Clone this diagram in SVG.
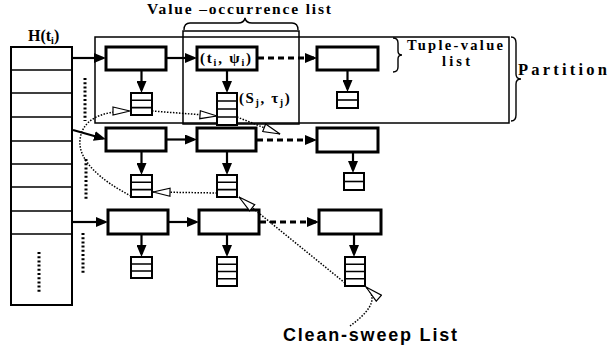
<svg xmlns="http://www.w3.org/2000/svg" width="609" height="348" viewBox="0 0 609 348">
<style>
.bx{fill:#fff;stroke:#000;stroke-width:3}
.q{fill:#fff;stroke:#000;stroke-width:2}
.ql{stroke:#000;stroke-width:1.6}
.sol{stroke:#000;stroke-width:2.2;fill:none}
.dsh{stroke:#000;stroke-width:3;fill:none;stroke-dasharray:6 4}
.dot{stroke:#000;stroke-width:1.5;fill:none;stroke-dasharray:1.5 1.5}
.big{stroke:#000;stroke-width:3;fill:none;stroke-dasharray:2 2.2}
.frame{fill:none;stroke:#000;stroke-width:1.5}
.brace{fill:none;stroke:#000;stroke-width:1.4}
.lab{font-family:"Liberation Serif","Times New Roman",serif;font-weight:bold;fill:#000}
.sans{font-family:"Liberation Sans",Arial,sans-serif;font-weight:bold;fill:#000}
</style>
<defs>
<marker id="ah" viewBox="0 0 12 10" refX="9" refY="5" markerWidth="12" markerHeight="10" markerUnits="userSpaceOnUse" orient="auto">
<path d="M0,0 L12,5 L0,10 z" fill="#000"/>
</marker>
<marker id="hh" viewBox="0 0 19 10" refX="18" refY="5" markerWidth="19" markerHeight="10" markerUnits="userSpaceOnUse" orient="auto">
<path d="M1,1 L18,5 L1,9 z" fill="#fff" stroke="#000" stroke-width="1.2"/>
</marker>
</defs>
<rect width="609" height="348" fill="#fff"/>

<g id="frames">
<rect class="frame" x="95" y="37" width="414" height="86"/>
<rect class="frame" x="183" y="31" width="116" height="93"/>
<path class="brace" d="M184 30 Q184 23 190 23 L238 23 Q244 23 245 18 Q246 23 252 23 L292 23 Q298 23 298 30"/>
<path class="brace" d="M393 38 Q398 38 398 43 L398 51 Q398 55 402 55 Q398 55 398 59 L398 67 Q398 72 393 72"/>
<path class="brace" d="M511 37 Q516 37 516 43 L516 74 Q516 79 521 79 Q516 79 516 84 L516 115 Q516 121 511 121"/>
</g>

<g id="labels">
<text class="lab" x="147" y="14" font-size="15.5" textLength="184" lengthAdjust="spacing">Value –occurrence list</text>
<text class="lab" x="28" y="41" font-size="16">H(t<tspan font-size="10" dy="3">i</tspan><tspan dy="-3">)</tspan></text>
<text class="lab" x="407" y="50" font-size="14.5" textLength="96" lengthAdjust="spacing">Tuple-value</text>
<text class="lab" x="442" y="66" font-size="14.5" textLength="28" lengthAdjust="spacing">list</text>
<text class="lab" x="518" y="75" font-size="16.5" textLength="89" lengthAdjust="spacing">Partition</text>
<text class="sans" x="283" y="341" font-size="18" textLength="174" lengthAdjust="spacing">Clean-sweep List</text>
</g>

<g id="hash-table">
<rect x="11" y="47" width="61" height="258" fill="#fff" stroke="#000" stroke-width="2"/>
<path d="M11 70H72M11 93H72M11 117H72M11 141H72M11 164H72M11 187H72M11 211H72M11 234H72" stroke="#000" stroke-width="1.6"/>
<line class="big" x1="39" y1="252" x2="39" y2="293"/>
</g>

<g id="row1">
<g id="n-r1c1"><rect class="bx" x="106" y="47" width="60" height="23"/></g>
<g id="n-r1c2"><rect class="bx" x="197" y="47" width="60" height="23"/>
<text class="lab" x="200" y="63" font-size="15" letter-spacing="1.8">(t<tspan font-size="10" dy="3">i</tspan><tspan dy="-3">, ψ</tspan><tspan font-size="10" dy="3">i</tspan><tspan dy="-3">)</tspan></text></g>
<g id="n-r1c3"><rect class="bx" x="317" y="47" width="61" height="23"/></g>
<g id="q-r1c1"><rect class="q" x="131" y="93" width="21" height="22"/><path class="ql" d="M131 100.3H152M131 107.6H152"/></g>
<g id="q-r1c2"><rect class="q" x="217" y="93" width="20" height="32"/><path class="ql" d="M217 101H237M217 109H237M217 117H237"/>
<text class="lab" x="239" y="103" font-size="15" letter-spacing="1.6">(S<tspan font-size="10" dy="3">j</tspan><tspan dy="-3">, τ</tspan><tspan font-size="10" dy="3">j</tspan><tspan dy="-3">)</tspan></text></g>
<g id="q-r1c3"><rect class="q" x="337" y="92" width="21" height="16"/><path class="ql" d="M337 100H358"/></g>
</g>

<g id="row2">
<g id="n-r2c1"><rect class="bx" x="106" y="128" width="60" height="23"/></g>
<g id="n-r2c2"><rect class="bx" x="197" y="128" width="59" height="23"/></g>
<g id="n-r2c3"><rect class="bx" x="317" y="128" width="61" height="24"/></g>
<g id="q-r2c1"><rect class="q" x="131" y="175" width="21" height="22"/><path class="ql" d="M131 182.3H152M131 189.6H152"/></g>
<g id="q-r2c2"><rect class="q" x="217" y="175" width="20" height="22"/><path class="ql" d="M217 182.3H237M217 189.6H237"/></g>
<g id="q-r2c3"><rect class="q" x="344" y="173" width="20" height="17"/><path class="ql" d="M344 181.5H364"/></g>
</g>

<g id="row3">
<g id="n-r3c1"><rect class="bx" x="108" y="210" width="60" height="24"/></g>
<g id="n-r3c2"><rect class="bx" x="199" y="210" width="60" height="24"/></g>
<g id="n-r3c3"><rect class="bx" x="319" y="210" width="62" height="24"/></g>
<g id="q-r3c1"><rect class="q" x="131" y="257" width="21" height="21"/><path class="ql" d="M131 264H152M131 271H152"/></g>
<g id="q-r3c2"><rect class="q" x="217" y="257" width="20" height="29"/><path class="ql" d="M217 264.3H237M217 271.5H237M217 278.8H237"/></g>
<g id="q-r3c3"><rect class="q" x="345" y="257" width="20" height="29"/><path class="ql" d="M345 264.3H365M345 271.5H365M345 278.8H365"/></g>
</g>

<g id="connectors">
<line class="sol" x1="73" y1="58" x2="103" y2="58" marker-end="url(#ah)"/>
<line class="sol" x1="73" y1="130" x2="103" y2="138.5" marker-end="url(#ah)"/>
<line class="sol" x1="73" y1="222" x2="105" y2="222" marker-end="url(#ah)"/>
<line class="sol" x1="166" y1="58" x2="194" y2="58" marker-end="url(#ah)"/>
<line class="dsh" x1="258" y1="58" x2="314" y2="58" marker-end="url(#ah)"/>
<line class="sol" x1="166" y1="139.5" x2="194" y2="139.5" marker-end="url(#ah)"/>
<line class="dsh" x1="257" y1="140" x2="314" y2="140" marker-end="url(#ah)"/>
<line class="sol" x1="168" y1="222" x2="196" y2="222" marker-end="url(#ah)"/>
<line class="dsh" x1="260" y1="222" x2="316" y2="222" marker-end="url(#ah)"/>
<line class="sol" x1="141.5" y1="71" x2="141.5" y2="90" marker-end="url(#ah)"/>
<line class="sol" x1="227" y1="71" x2="227" y2="90" marker-end="url(#ah)"/>
<line class="sol" x1="347.5" y1="71" x2="347.5" y2="89" marker-end="url(#ah)"/>
<line class="sol" x1="141.5" y1="152" x2="141.5" y2="172" marker-end="url(#ah)"/>
<line class="sol" x1="227" y1="152" x2="227" y2="172" marker-end="url(#ah)"/>
<line class="sol" x1="353" y1="153" x2="353" y2="170" marker-end="url(#ah)"/>
<line class="sol" x1="141.5" y1="235" x2="141.5" y2="254" marker-end="url(#ah)"/>
<line class="sol" x1="227" y1="235" x2="227" y2="254" marker-end="url(#ah)"/>
<line class="sol" x1="354" y1="235" x2="354" y2="254" marker-end="url(#ah)"/>
<line class="big" x1="85" y1="78" x2="85" y2="121"/>
<line class="big" x1="86" y1="159" x2="86" y2="199"/>
<line class="big" x1="83" y1="233" x2="83" y2="274"/>
<path class="dot" d="M350 326 C365 315 381 300 366 287" marker-end="url(#hh)"/>
<path class="dot" d="M345 283 L239 197" marker-end="url(#hh)"/>
<path class="dot" d="M217 193 L153 192" marker-end="url(#hh)"/>
<path class="dot" d="M131 196 C100 180 78 160 80 140 C82 120 100 111 130 111" marker-end="url(#hh)"/>
<path class="dot" d="M152 111 L217 116" marker-end="url(#hh)"/>
<path class="dot" d="M237 117 L280 134" marker-end="url(#hh)"/>
</g>
</svg>
